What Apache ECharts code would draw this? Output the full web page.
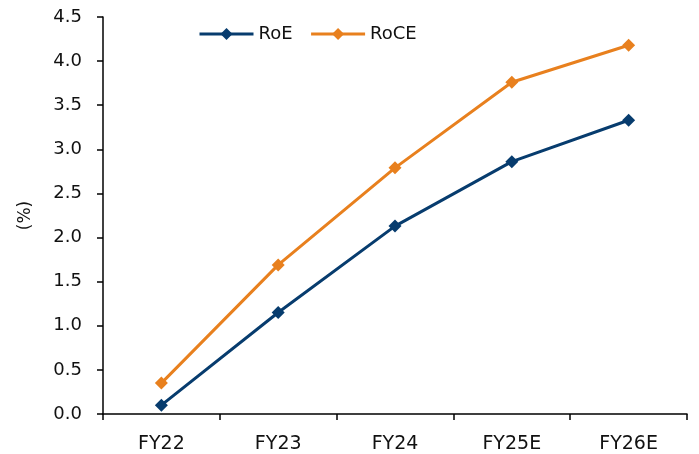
<!DOCTYPE html>
<html><head><meta charset="utf-8">
<script src="https://cdn.jsdelivr.net/npm/echarts@6/dist/echarts.min.js"></script>
<style>html,body{margin:0;padding:0;background:#fff}#c{width:699px;height:454px}</style>
</head><body><div id="c"></div>
<script>
const categories = ['FY22','FY23','FY24','FY25E','FY26E'];
const roe = [0.10, 1.15, 2.13, 2.86, 3.33];
const roce = [0.35, 1.69, 2.79, 3.76, 4.18];
const yTicks = {min:0, max:4.5, interval:0.5};
const font = '"DejaVu Sans", sans-serif';
const chart = echarts.init(document.getElementById('c'));
chart.setOption({
  animation:false,
  grid:{left:103, right:12, top:17, bottom:38, containLabel:false},
  legend:{top:20, left:193, itemWidth:54, itemHeight:15, itemGap:17,
    lineStyle:{width:3},
    textStyle:{fontFamily:font, fontSize:18, color:'#111'},
    data:['RoE','RoCE']},
  xAxis:{type:'category', data:categories, boundaryGap:true,
    axisLine:{lineStyle:{color:'#000', width:1.5}},
    axisTick:{show:true, length:6, lineStyle:{color:'#000', width:1.5}},
    axisLabel:{fontFamily:font, fontSize:19, color:'#111', margin:21}},
  yAxis:{type:'value', min:yTicks.min, max:yTicks.max, interval:yTicks.interval,
    name:'(%)', nameLocation:'middle', nameGap:69, nameRotate:90,
    nameTextStyle:{fontFamily:font, fontSize:17, color:'#111'},
    axisLine:{show:true, lineStyle:{color:'#000', width:1.5}},
    axisTick:{show:true, length:6, lineStyle:{color:'#000', width:1.5}},
    splitLine:{show:false},
    axisLabel:{fontFamily:font, fontSize:18, color:'#111', margin:21,
      formatter:v=>v.toFixed(1)}},
  series:[
    {name:'RoE', type:'line', data:roe, symbol:'diamond', symbolSize:13,
      lineStyle:{color:'#073C6E', width:3}, itemStyle:{color:'#073C6E'}},
    {name:'RoCE', type:'line', data:roce, symbol:'diamond', symbolSize:13,
      lineStyle:{color:'#E8801E', width:3}, itemStyle:{color:'#E8801E'}}
  ]
});
</script></body></html>
